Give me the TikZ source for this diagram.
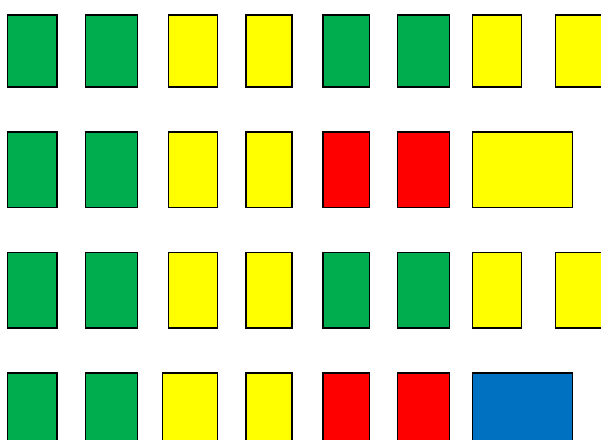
\documentclass[tikz,border=0pt]{standalone}
\definecolor{cgreen}{RGB}{0,173,78}
\definecolor{cyellow}{RGB}{255,255,0}
\definecolor{cred}{RGB}{255,0,0}
\definecolor{cblue}{RGB}{0,112,192}
\tikzset{card/.style={draw=black,line width=1.3pt}}
\begin{document}
\begin{tikzpicture}[x=1pt,y=-1pt]
\useasboundingbox (0,0) rectangle (601,439);
\clip (0,0) rectangle (601,439);
% row 1
\foreach \ya/\yb [count=\r] in {15/87, 132/207.5, 252.5/328, 373/450} {
  \draw[card,fill=cgreen] (7.5,\ya) rectangle (57,\yb);
  \draw[card,fill=cgreen] (85.5,\ya) rectangle (137.5,\yb);
  \draw[card,fill=cyellow] (246,\ya) rectangle (292,\yb);
}
% column 3
\draw[card,fill=cyellow] (168.5,15) rectangle (217.5,87);
\draw[card,fill=cyellow] (168.5,132) rectangle (217.5,207.5);
\draw[card,fill=cyellow] (168.5,252.5) rectangle (217.5,328);
\draw[card,fill=cyellow] (162.5,373) rectangle (217.5,450);
% rows 1 and 3 right part
\foreach \ya/\yb in {15/87, 252.5/328} {
  \draw[card,fill=cgreen] (323,\ya) rectangle (369.5,\yb);
  \draw[card,fill=cgreen] (397.5,\ya) rectangle (449.5,\yb);
  \draw[card,fill=cyellow] (472.5,\ya) rectangle (521.5,\yb);
  \draw[card,fill=cyellow] (555.5,\ya) rectangle (620,\yb);
}
% rows 2 and 4 right part
\draw[card,fill=cred] (323,132) rectangle (369.5,207.5);
\draw[card,fill=cred] (397.5,132) rectangle (449.5,207.5);
\draw[card,fill=cyellow] (472.5,132) rectangle (572.5,207.5);
\draw[card,fill=cred] (323,373) rectangle (369.5,450);
\draw[card,fill=cred] (397.5,373) rectangle (449.5,450);
\draw[card,fill=cblue] (472.5,373) rectangle (572.5,450);
\end{tikzpicture}
\end{document}
